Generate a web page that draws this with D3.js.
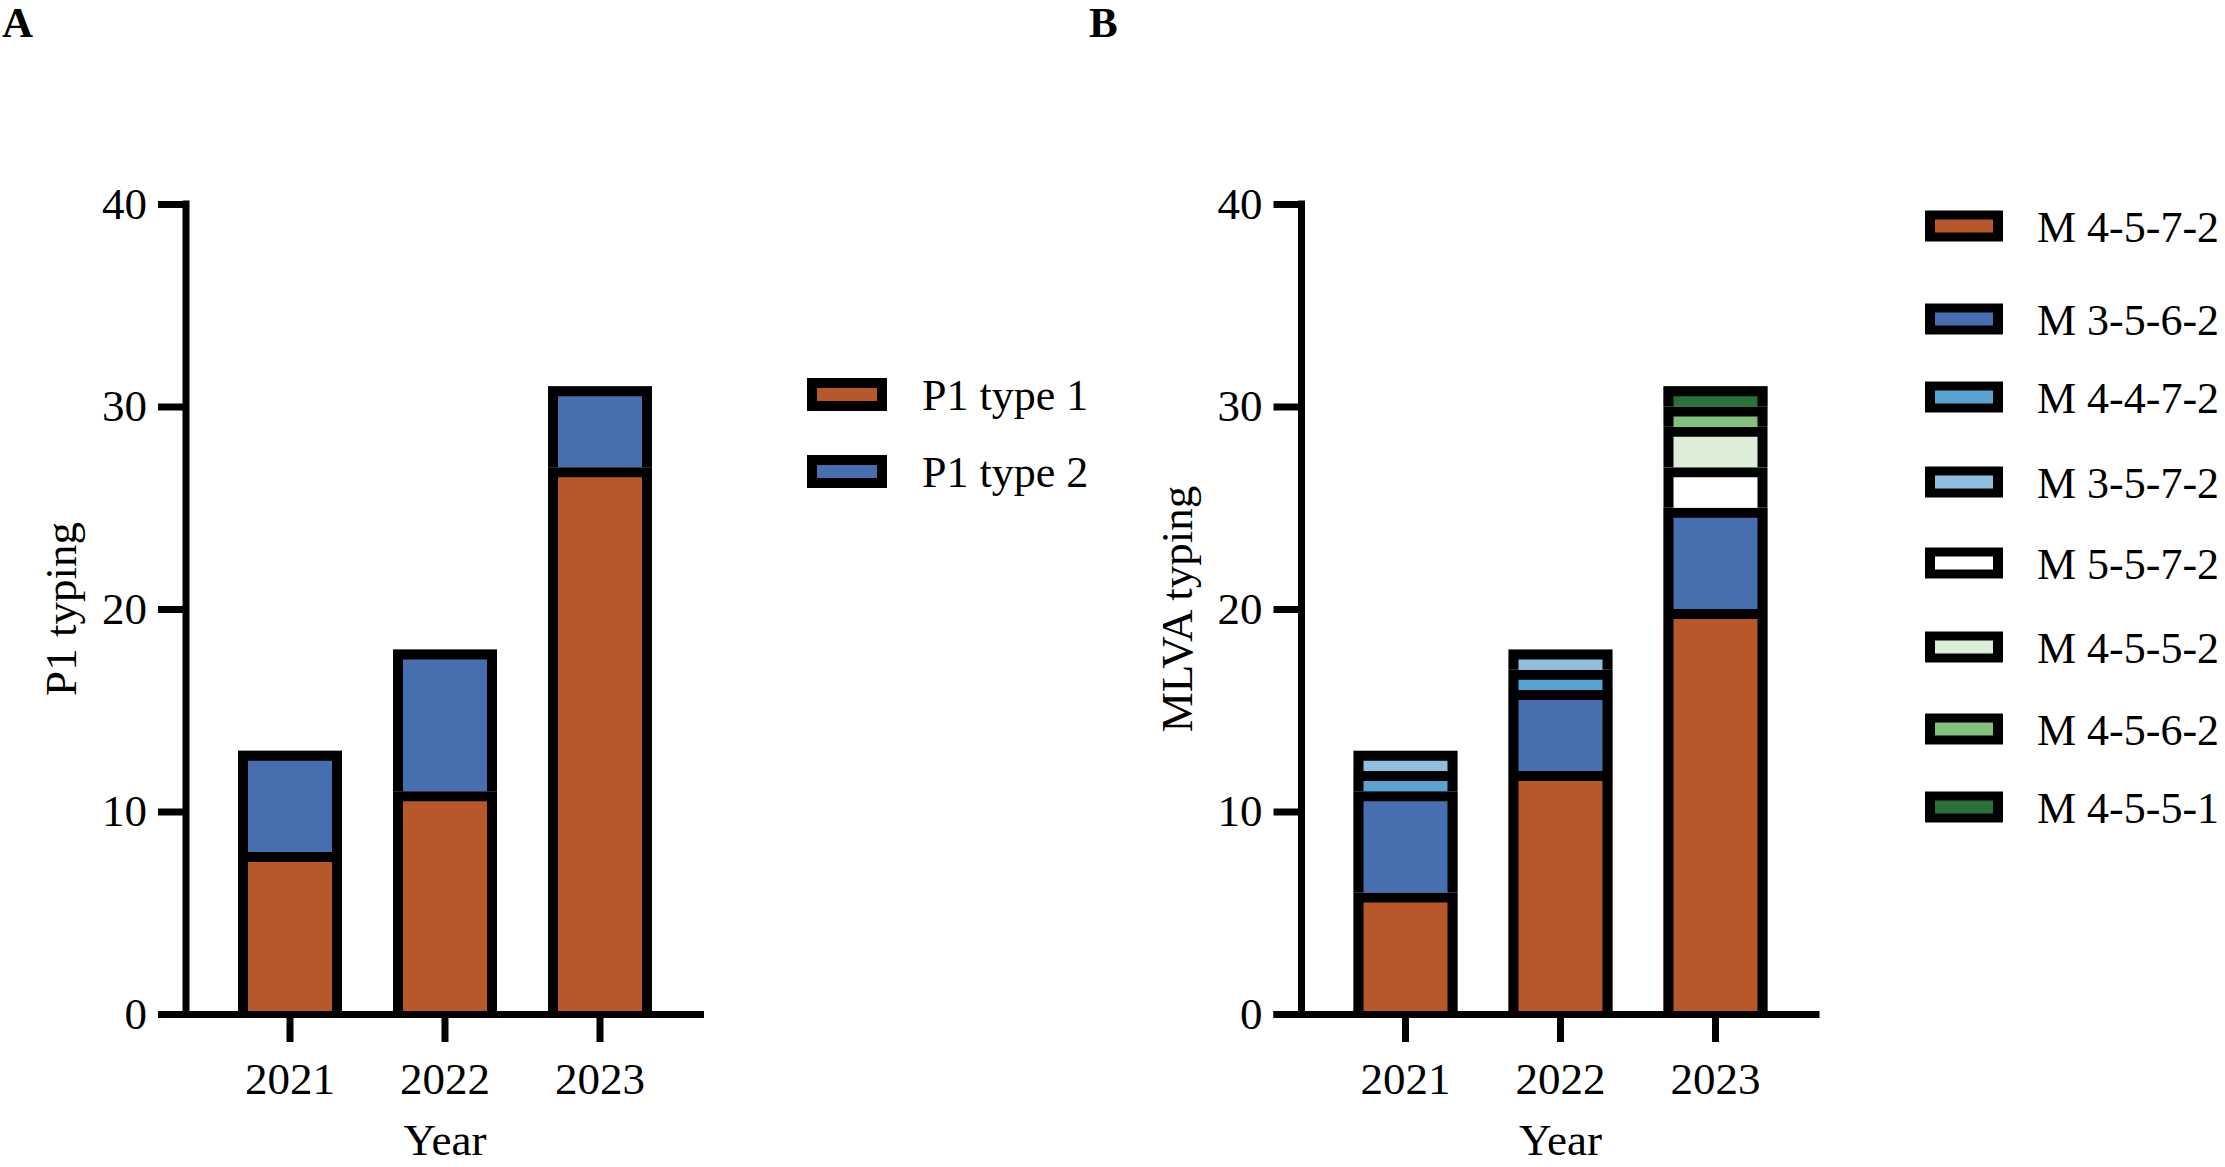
<!DOCTYPE html>
<html>
<head>
<meta charset="utf-8">
<script src="https://cdn.jsdelivr.net/npm/d3@7"></script>
<style>
  html, body { margin: 0; padding: 0; background: #fff; }
  svg { display: block; }
  text { font-family: "Liberation Serif", "Times New Roman", serif; fill: #000; }
</style>
</head>
<body>
<svg id="chart" width="2225" height="1167"></svg>
<script>
// ---------- data ----------
const years = ["2021", "2022", "2023"];
const yTicks = [0, 10, 20, 30, 40];

const p1Series = ["P1 type 1", "P1 type 2"];
const p1Type1 = [8, 11, 27];
const p1Type2 = [5, 7, 4];
const p1Colors = ["#B85729", "#476EAE"];

const mlvaSeries = ["M 4-5-7-2", "M 3-5-6-2", "M 4-4-7-2", "M 3-5-7-2",
                    "M 5-5-7-2", "M 4-5-5-2", "M 4-5-6-2", "M 4-5-5-1"];
const m4572 = [6, 12, 20];
const m3562 = [5, 4, 5];
const m4472 = [1, 1, 0];
const m3572 = [1, 1, 0];
const m5572 = [0, 0, 2];
const m4552 = [0, 0, 2];
const m4562 = [0, 0, 1];
const m4551 = [0, 0, 1];
const mlvaColors = ["#B85729", "#476EAE", "#5AA2CF", "#8FBFDF",
                    "#FFFFFF", "#DDEED8", "#83BF7D", "#2A7039"];

// ---------- layout ----------
const legendRowsA = [394.5, 471.5];
const legendRowsB = [226, 319, 397, 482, 563, 647, 729, 807];

// ---------- helpers ----------
const svg = d3.select("#chart");
const BORDER = 10, AXW = 7;
const Y0 = 1014, Y40 = 204;

function buildTable(seriesNames, seriesValues) {
  return years.map((yr, i) => {
    const row = { year: yr };
    seriesNames.forEach((s, k) => row[s] = seriesValues[k][i]);
    return row;
  });
}

function drawPanel(cfg) {
  const g = svg.append("g");
  const axisX = cfg.axisX;
  const y = d3.scaleLinear().domain([0, 40]).range([Y0, Y40]);
  const x = d3.scaleBand().domain(years)
    .range([axisX + 26.5, axisX + 26.5 + 465])
    .paddingInner(0.329).paddingOuter(0.1645);

  const table = buildTable(cfg.series, cfg.values);
  const stacked = d3.stack().keys(cfg.series)(table);

  const bw = x.bandwidth();
  stacked.forEach((layer, k) => {
    const lg = g.append("g");
    layer.forEach(d => {
      if (d[1] - d[0] <= 0) return;
      const x0 = x(d.data.year);
      const yt = y(d[1]), yb = y(d[0]);
      lg.append("rect")
        .attr("x", x0).attr("y", yt)
        .attr("width", bw).attr("height", yb - yt)
        .attr("fill", cfg.colors[k]);
      const h = BORDER / 2;
      lg.append("path")
        .attr("d", `M${x0 + h},${yb}V${yt + h}H${x0 + bw - h}V${yb}`)
        .attr("fill", "none").attr("stroke", "#000")
        .attr("stroke-width", BORDER)
        .attr("stroke-linejoin", "miter").attr("stroke-linecap", "butt");
    });
  });

  // y axis
  const yAxis = d3.axisLeft(y).tickValues(yTicks).tickSize(28).tickSizeOuter(0).tickPadding(11);
  const ya = g.append("g").attr("transform", `translate(${axisX},0)`).call(yAxis);
  ya.select(".domain").remove();
  ya.selectAll(".tick line").attr("stroke", "#000").attr("stroke-width", AXW);
  ya.selectAll(".tick text").attr("font-size", 45)
    .style("font-family", "'Liberation Serif', serif").attr("fill", "#000");
  g.append("line")
    .attr("x1", axisX).attr("x2", axisX)
    .attr("y1", Y40 - AXW / 2).attr("y2", Y0 + AXW / 2)
    .attr("stroke", "#000").attr("stroke-width", AXW);

  // x axis
  const xAxis = d3.axisBottom(x).tickSize(28).tickSizeOuter(0).tickPadding(20);
  const xa = g.append("g").attr("transform", `translate(0,${Y0})`).call(xAxis);
  xa.select(".domain").remove();
  xa.selectAll(".tick line").attr("stroke", "#000").attr("stroke-width", AXW);
  xa.selectAll(".tick text").attr("font-size", 45)
    .style("font-family", "'Liberation Serif', serif").attr("fill", "#000");
  g.append("line")
    .attr("x1", axisX - 28).attr("x2", axisX + 518)
    .attr("y1", Y0 + 0.5).attr("y2", Y0 + 0.5)
    .attr("stroke", "#000").attr("stroke-width", AXW);

  // titles
  g.append("text")
    .attr("transform", `translate(${axisX - 110},${(Y0 + Y40) / 2}) rotate(-90)`)
    .attr("text-anchor", "middle").attr("font-size", 45)
    .text(cfg.yTitle);
  g.append("text")
    .attr("x", axisX + 259).attr("y", 1155)
    .attr("text-anchor", "middle").attr("font-size", 45)
    .text("Year");
  g.append("text")
    .attr("x", cfg.labelX).attr("y", 37)
    .attr("font-size", 43).attr("font-weight", "bold")
    .text(cfg.label);

  // legend
  const L = cfg.legend;
  const lg = g.append("g");
  cfg.series.forEach((s, k) => {
    const cy = L.rows[k];
    lg.append("rect")
      .attr("x", L.x).attr("y", cy - L.h / 2)
      .attr("width", L.w).attr("height", L.h)
      .attr("fill", "#000");
    lg.append("rect")
      .attr("x", L.x + 10).attr("y", cy - L.h / 2 + L.bv)
      .attr("width", L.w - 20).attr("height", L.h - 2 * L.bv)
      .attr("fill", cfg.colors[k]);
    lg.append("text")
      .attr("x", L.tx).attr("y", cy + L.fs * 0.36)
      .attr("font-size", L.fs)
      .text(s);
  });
}

drawPanel({
  axisX: 186, label: "A", labelX: 2, yTitle: "P1 typing",
  series: p1Series, values: [p1Type1, p1Type2], colors: p1Colors,
  legend: { x: 807, rows: legendRowsA, w: 80, h: 33, bv: 10, tx: 922, fs: 44 }
});

drawPanel({
  axisX: 1301.5, label: "B", labelX: 1089, yTitle: "MLVA typing",
  series: mlvaSeries,
  values: [m4572, m3562, m4472, m3572, m5572, m4552, m4562, m4551],
  colors: mlvaColors,
  legend: { x: 1925, rows: legendRowsB, w: 78, h: 31, bv: 9, tx: 2037, fs: 44 }
});
</script>
</body>
</html>
